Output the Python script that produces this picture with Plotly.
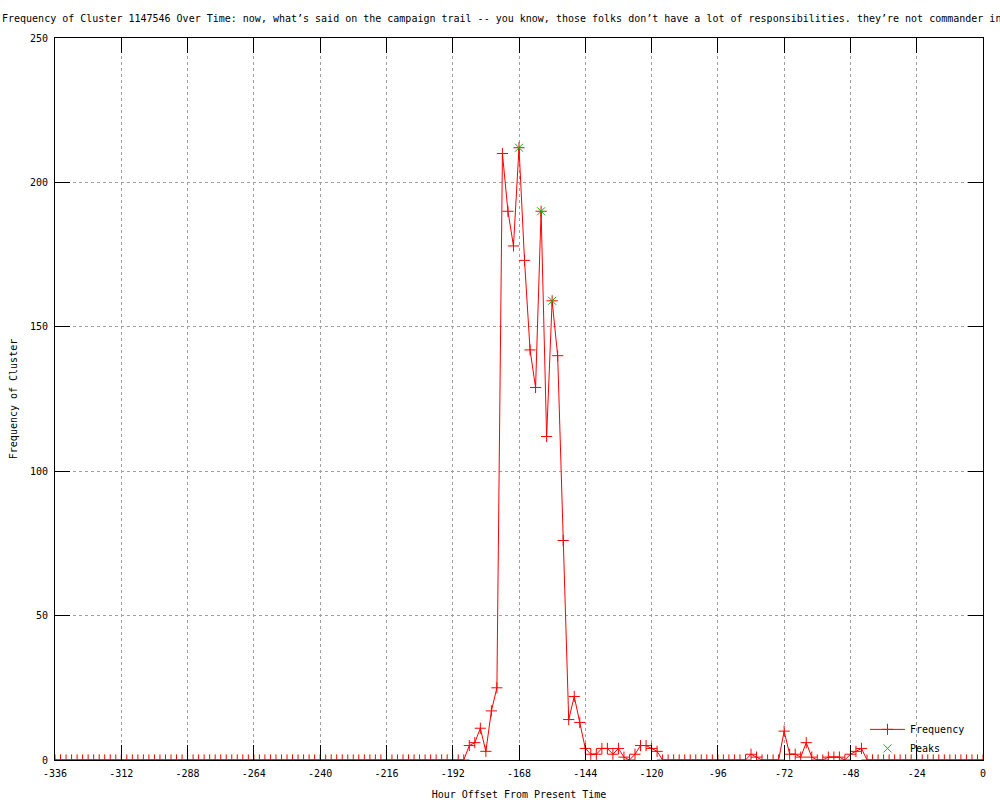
import plotly.graph_objects as go

# Hour offsets (every 2 hours, from -336 to 0)
hours = list(range(-336, 1, 2))

# Frequency values (one per hour offset above)
frequency = (
    [0] * 75                                   # -336 .. -188
    + [5, 6, 11, 3, 17, 25, 210, 190, 178, 212,  # -186 .. -168
       173, 142, 129, 190, 112, 159, 140, 76,    # -166 .. -152
       14, 22, 13, 4, 2, 2, 4, 4, 2, 4, 1, 0,    # -150 .. -128
       2, 5, 5, 4, 3]                            # -126 .. -118
    + [0] * 16                                 # -116 .. -86
    + [2, 1, 0, 0, 0, 0, 10, 2, 2, 1, 6, 1,      # -84 .. -62
       0, 0, 1, 1, 1, 0, 2, 3, 4]                # -60 .. -44
    + [0] * 22                                 # -42 .. 0
)

peak_hours = [-168, -160, -156]
peak_values = [212, 190, 159]

x_ticks = list(range(-336, 1, 24))
y_ticks = [0, 50, 100, 150, 200, 250]

title_text = ("Frequency of Cluster 1147546 Over Time: now, what\u2019s said on the campaign trail "
              "-- you know, those folks don\u2019t have a lot of responsibilities. they\u2019re not commander in")

FONT = "DejaVu Sans Mono"

fig = go.Figure()
fig.add_trace(go.Scatter(
    x=hours, y=frequency, mode="lines+markers", name="Frequency",
    line=dict(color="#ff0000", width=1),
    marker=dict(symbol="cross-thin-open", size=8, line=dict(color="#ff0000", width=1), color="#ff0000"),
))
fig.add_trace(go.Scatter(
    x=peak_hours, y=peak_values, mode="markers", name="Peaks",
    marker=dict(symbol="x-thin-open", size=8, line=dict(color="#00c000", width=1), color="#00c000"),
))

axis_common = dict(
    showline=True, linecolor="black", linewidth=1, mirror="ticks",
    ticks="inside", ticklen=15, tickcolor="black", tickwidth=1,
    showgrid=True, gridcolor="#a0a0a0", griddash="dot", gridwidth=1,
    zeroline=False, automargin=False,
    tickfont=dict(family=FONT, size=10, color="black"),
)

fig.update_layout(
    width=1000, height=800,
    paper_bgcolor="white", plot_bgcolor="white",
    margin=dict(l=55, r=17, t=38, b=40),
    font=dict(family=FONT, size=10, color="black"),
    title=dict(text=title_text, x=0.002, xanchor="left", xref="container",
               y=0.977, yanchor="middle", yref="container",
               font=dict(family=FONT, size=10, color="black")),
    xaxis=dict(range=[-336, 0], tickvals=x_ticks, ticktext=[str(v) for v in x_ticks],
               ticklabelstandoff=4,
               title=dict(text="Hour Offset From Present Time", standoff=14,
                          font=dict(family=FONT, size=10)),
               **axis_common),
    yaxis=dict(range=[0, 250], tickvals=y_ticks, ticklabelstandoff=4,
               title=dict(text="Frequency of Cluster", standoff=10,
                          font=dict(family=FONT, size=10)),
               **axis_common),
    showlegend=True,
    legend=dict(x=0.986, y=-0.004, xanchor="right", yanchor="bottom",
                bgcolor="rgba(0,0,0,0)", borderwidth=0,
                font=dict(family=FONT, size=10), tracegroupgap=0,
                itemwidth=35),
)

fig.write_html("out.html", config={"displayModeBar": False},
               post_script="document.body.style.margin='0';document.body.style.padding='0';")
